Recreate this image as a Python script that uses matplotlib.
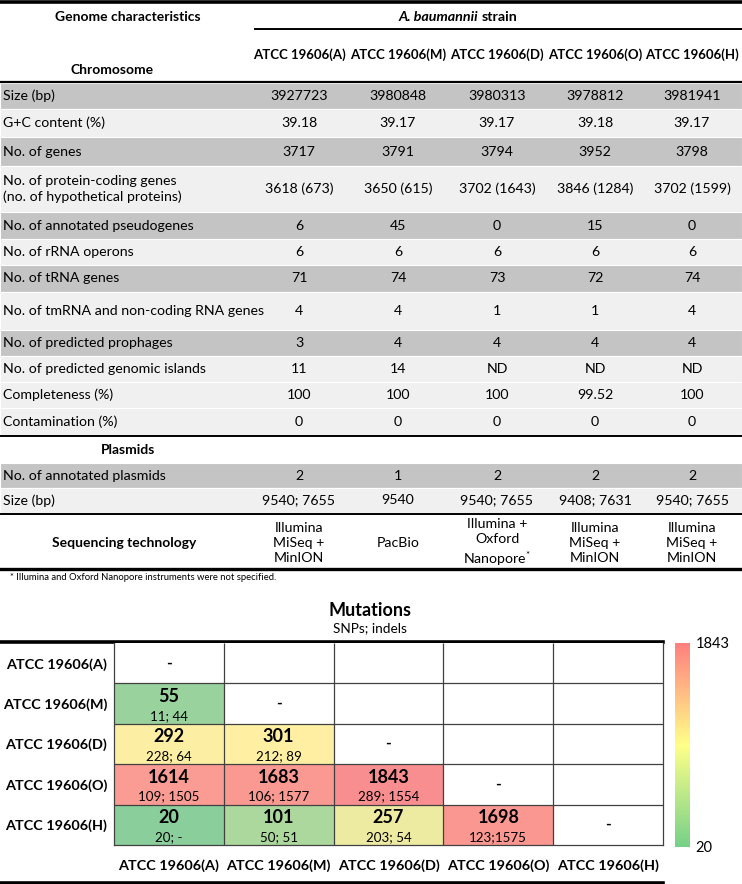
import numpy as np
import matplotlib
matplotlib.use("Agg")
import matplotlib.pyplot as plt
from matplotlib.colors import LinearSegmentedColormap, TwoSlopeNorm
from matplotlib.cm import ScalarMappable

plt.rcParams['font.family'] = ['Lato', 'DejaVu Sans']
plt.rcParams['mathtext.fontset'] = 'custom'
plt.rcParams['mathtext.rm'] = 'Lato'
plt.rcParams['mathtext.bf'] = 'Lato:bold'
plt.rcParams['mathtext.it'] = 'Lato:italic'
plt.rcParams['mathtext.default'] = 'regular'

# ---- data: genome table ----
strains = ["ATCC 19606(A)", "ATCC 19606(M)", "ATCC 19606(D)", "ATCC 19606(O)", "ATCC 19606(H)"]

chrom_labels = ["Size (bp)", "G+C content (%)", "No. of genes",
                "No. of protein-coding genes\n(no. of hypothetical proteins)",
                "No. of annotated pseudogenes", "No. of rRNA operons", "No. of tRNA genes",
                "No. of tmRNA and non-coding RNA genes", "No. of predicted prophages",
                "No. of predicted genomic islands", "Completeness (%)", "Contamination (%)"]
chrom_size = [3927723, 3980848, 3980313, 3978812, 3981941]
gc_content = [39.18, 39.17, 39.17, 39.18, 39.17]
n_genes = [3717, 3791, 3794, 3952, 3798]
protein_coding = [3618, 3650, 3702, 3846, 3702]
hypothetical = [673, 615, 1643, 1284, 1599]
pseudogenes = [6, 45, 0, 15, 0]
rrna_operons = [6, 6, 6, 6, 6]
trna_genes = [71, 74, 73, 72, 74]
tmrna_genes = [4, 4, 1, 1, 4]
prophages = [3, 4, 4, 4, 4]
genomic_islands = ["11", "14", "ND", "ND", "ND"]
completeness = [100, 100, 100, 99.52, 100]
contamination = [0, 0, 0, 0, 0]

plasmid_labels = ["No. of annotated plasmids", "Size (bp)"]
n_plasmids = [2, 1, 2, 2, 2]
plasmid_size = ["9540; 7655", "9540", "9540; 7655", "9408; 7631", "9540; 7655"]

seq_tech = ["Illumina\nMiSeq +\nMinION", "PacBio", "Illumina +\nOxford\nNanopore$^{*}$",
            "Illumina\nMiSeq +\nMinION", "Illumina\nMiSeq +\nMinION"]

# ---- data: mutation matrix (lower triangle) ----
mut_total = np.array([
    [np.nan, np.nan, np.nan, np.nan, np.nan],
    [55, np.nan, np.nan, np.nan, np.nan],
    [292, 301, np.nan, np.nan, np.nan],
    [1614, 1683, 1843, np.nan, np.nan],
    [20, 101, 257, 1698, np.nan],
])
mut_detail = [
    ["", "", "", "", ""],
    ["11; 44", "", "", "", ""],
    ["228; 64", "212; 89", "", "", ""],
    ["109; 1505", "106; 1577", "289; 1554", "", ""],
    ["20; -", "50; 51", "203; 54", "123;1575", ""],
]

chrom_values = [
    [str(v) for v in chrom_size],
    [f"{v:.2f}" for v in gc_content],
    [str(v) for v in n_genes],
    [f"{a} ({b})" for a, b in zip(protein_coding, hypothetical)],
    [str(v) for v in pseudogenes],
    [str(v) for v in rrna_operons],
    [str(v) for v in trna_genes],
    [str(v) for v in tmrna_genes],
    [str(v) for v in prophages],
    genomic_islands,
    [f"{v:g}" for v in completeness],
    [str(v) for v in contamination],
]
plasmid_values = [[str(v) for v in n_plasmids], plasmid_size]

# ---- layout (pixels) ----
W, H = 742, 884
GRAY, LIGHT = '#c4c4c4', '#f0f0f0'
col_x = [299, 398, 497, 595, 692]
chrom_bands = [(83, 109), (109, 137), (137, 166), (166, 212), (212, 239), (239, 265),
               (265, 292), (292, 330), (330, 356), (356, 382), (382, 408), (408, 435)]
chrom_shade = [GRAY, LIGHT, GRAY, LIGHT, GRAY, LIGHT, GRAY, LIGHT, GRAY, LIGHT, LIGHT, LIGHT]
plasmid_bands = [(463, 488), (488, 513)]
plasmid_shade = [GRAY, LIGHT]
FS = 10.2
FSB = 9.5

fig = plt.figure(figsize=(W / 100, H / 100), dpi=100)
bg = fig.add_axes([0, 0, 1, 1])
bg.set_xlim(0, W)
bg.set_ylim(H, 0)
bg.axis('off')

# header
bg.plot([0, W], [2, 2], color='black', lw=2.6)
bg.text(128, 17, "Genome characteristics", ha='center', va='center', fontsize=FSB + 0.5, fontweight='bold')
bg.text(478, 17, "A. baumannii", ha='right', va='center', fontsize=FSB + 0.8, fontweight='bold', style='italic')
bg.text(482, 17, "strain", ha='left', va='center', fontsize=FSB + 0.8, fontweight='bold')
bg.plot([255, W], [29, 29], color='black', lw=1.4)
for x, s in zip(col_x, strains):
    bg.text(x, 55, s, ha='center', va='center', fontsize=FSB, fontweight='bold')
bg.text(112, 70, "Chromosome", ha='center', va='center', fontsize=FSB + 0.5, fontweight='bold')
bg.plot([0, W], [82, 82], color='black', lw=1.6)


def draw_rows(labels, values, bands, shades):
    for lab, vals, (y0, y1), c in zip(labels, values, bands, shades):
        bg.add_patch(plt.Rectangle((0, y0), W, y1 - y0, facecolor=c, edgecolor='white', lw=0.8))
        yc = (y0 + y1) / 2
        bg.text(3, yc, lab, ha='left', va='center', fontsize=FS, linespacing=1.25)
        for x, v in zip(col_x, vals):
            bg.text(x, yc, v, ha='center', va='center', fontsize=FS)


draw_rows(chrom_labels, chrom_values, chrom_bands, chrom_shade)
bg.plot([0, W], [436, 436], color='black', lw=1.4)
bg.text(128, 450, "Plasmids", ha='center', va='center', fontsize=FSB + 0.5, fontweight='bold')
draw_rows(plasmid_labels, plasmid_values, plasmid_bands, plasmid_shade)
bg.plot([0, W], [514, 514], color='black', lw=1.4)
bg.text(124, 543, "Sequencing technology", ha='center', va='center', fontsize=FSB + 0.5, fontweight='bold')
for x, s in zip(col_x, seq_tech):
    bg.text(x, 543, s, ha='center', va='center', fontsize=FS, linespacing=1.3)
bg.plot([0, W], [568.5, 568.5], color='black', lw=2.4)
bg.text(10, 578, "* Illumina and Oxford Nanopore instruments were not specified.",
        ha='left', va='center', fontsize=6.8)

# ---- mutation heatmap ----
bg.text(370, 610, "Mutations", ha='center', va='center', fontsize=13, fontweight='bold')
bg.text(370, 628, "SNPs; indels", ha='center', va='center', fontsize=9.8)
bg.plot([0, 663], [641.5, 641.5], color='black', lw=2.6)
bg.plot([0, 663], [882.5, 882.5], color='black', lw=2.6)

cell_cmap = LinearSegmentedColormap.from_list('excel3', ['#63BE7B', '#FFEB84', '#F8696B'])
bar_cmap = LinearSegmentedColormap.from_list('bar3', ['#76d088', '#ffff88', '#ff7f7f'])
vals = mut_total[~np.isnan(mut_total)]
norm = TwoSlopeNorm(vmin=vals.min(), vcenter=np.median(vals), vmax=vals.max())

ax = fig.add_axes([114 / W, (H - 845) / H, 549 / W, 202 / H])
n = len(strains)
ax.pcolormesh(np.arange(n + 1), np.arange(n + 1), np.ma.masked_invalid(mut_total),
              cmap=cell_cmap, norm=norm, alpha=0.75)
ax.set_xlim(0, n)
ax.set_ylim(n, 0)
ax.hlines(np.arange(1, n), 0, n, color='#404040', lw=0.9)
ax.vlines(np.arange(1, n), 0, n, color='#404040', lw=0.9)
for sp in ax.spines.values():
    sp.set_color('#404040')
    sp.set_linewidth(0.9)
ax.spines['top'].set_visible(False)
for i in range(n):
    for j in range(n):
        if i == j:
            ax.text(j + 0.5, i + 0.5, "-", ha='center', va='center', fontsize=11, fontweight='bold')
        elif not np.isnan(mut_total[i, j]):
            ax.text(j + 0.5, i + 0.32, f"{int(mut_total[i, j])}", ha='center', va='center',
                    fontsize=13, fontweight='bold')
            ax.text(j + 0.5, i + 0.8, mut_detail[i][j], ha='center', va='center', fontsize=9.6)
ax.set_xticks(np.arange(n) + 0.5, strains, fontsize=10.4, fontweight='bold')
ax.set_yticks(np.arange(n) + 0.5, strains, fontsize=10.4, fontweight='bold')
ax.tick_params(length=0)
ax.tick_params(axis='x', pad=10)
ax.tick_params(axis='y', pad=5)

cax = fig.add_axes([675 / W, (H - 847) / H, 15 / W, 204 / H])
cb = fig.colorbar(ScalarMappable(norm=norm, cmap=bar_cmap), cax=cax)
cb.set_ticks([vals.min(), vals.max()])
cb.set_ticklabels([f"{int(vals.min())}", f"{int(vals.max())}"])
cb.outline.set_visible(False)
cax.tick_params(length=0, labelsize=10.5, pad=4)

fig.savefig("out.png", dpi=100)
